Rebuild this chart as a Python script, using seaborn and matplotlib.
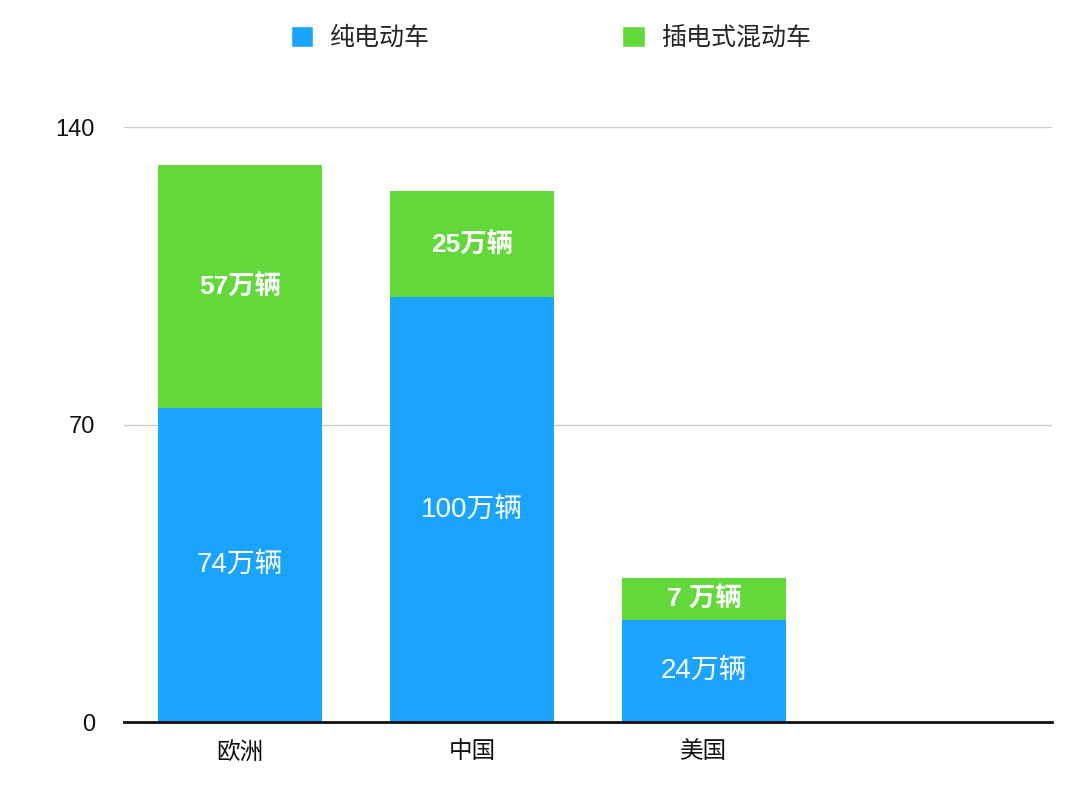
import matplotlib
matplotlib.use("Agg")
import matplotlib.pyplot as plt
from matplotlib.patches import Patch
import pandas as pd
import seaborn as sns

# values in 万辆
REGIONS = ["欧洲", "中国", "美国"]
BEV = [74, 100, 24]
PHEV = [57, 25, 10]
BEV_LABELS = ["74万辆", "100万辆", "24万辆"]
PHEV_LABELS = ["57万辆", "25万辆", "7 万辆"]
SERIES = ["纯电动车", "插电式混动车"]
Y_TICKS = [0, 70, 140]

BLUE = "#1aa3ff"
GREEN = "#62d83a"

sns.set_theme(style="white")
plt.rcParams["font.family"] = ["Liberation Sans", "Noto Sans CJK SC", "DejaVu Sans"]

df = pd.DataFrame({"region": REGIONS, "bev": BEV, "phev": PHEV})
df["total"] = df["bev"] + df["phev"]

fig = plt.figure(figsize=(10.8, 7.91), dpi=100)
ax = fig.add_axes([0.1148, 0.0872, 0.974 - 0.1148, 0.8394 - 0.0872])

sns.barplot(data=df, x="region", y="total", color=GREEN, saturation=1,
            width=0.71, linewidth=0, ax=ax, zorder=2)
sns.barplot(data=df, x="region", y="bev", color=BLUE, saturation=1,
            width=0.71, linewidth=0, ax=ax, zorder=2)

for i, row in df.iterrows():
    ax.text(i, row["bev"] / 2, BEV_LABELS[i], ha="center", va="center",
            color="white", fontsize=20, zorder=3)
    ax.text(i, row["bev"] + row["phev"] / 2, PHEV_LABELS[i], ha="center",
            va="center", color="white", fontsize=19, fontweight="bold", zorder=3)

ax.set_xlim(-0.5, 3.5)
ax.set_ylim(0, 140)
ax.set_yticks(Y_TICKS)
ax.yaxis.grid(True, color="#cccccc", linewidth=1, zorder=0)
ax.tick_params(axis="y", length=0, pad=21, labelsize=17, labelcolor="#111111")
ax.tick_params(axis="x", length=0, pad=14, labelsize=17, labelcolor="#111111")
ax.set_xlabel("")
ax.set_ylabel("")
for side in ["left", "right", "top"]:
    ax.spines[side].set_visible(False)
ax.spines["bottom"].set_color("#111111")
ax.spines["bottom"].set_linewidth(2)

handles = [Patch(facecolor=BLUE, label=SERIES[0]),
           Patch(facecolor=GREEN, label=SERIES[1])]
fig.legend(handles=handles, loc="center", bbox_to_anchor=(0.51, 0.952), ncol=2,
           frameon=False, fontsize=18, handlelength=0.9, handleheight=0.9,
           handletextpad=0.65, columnspacing=7.7)

fig.savefig("out.png", dpi=100)
